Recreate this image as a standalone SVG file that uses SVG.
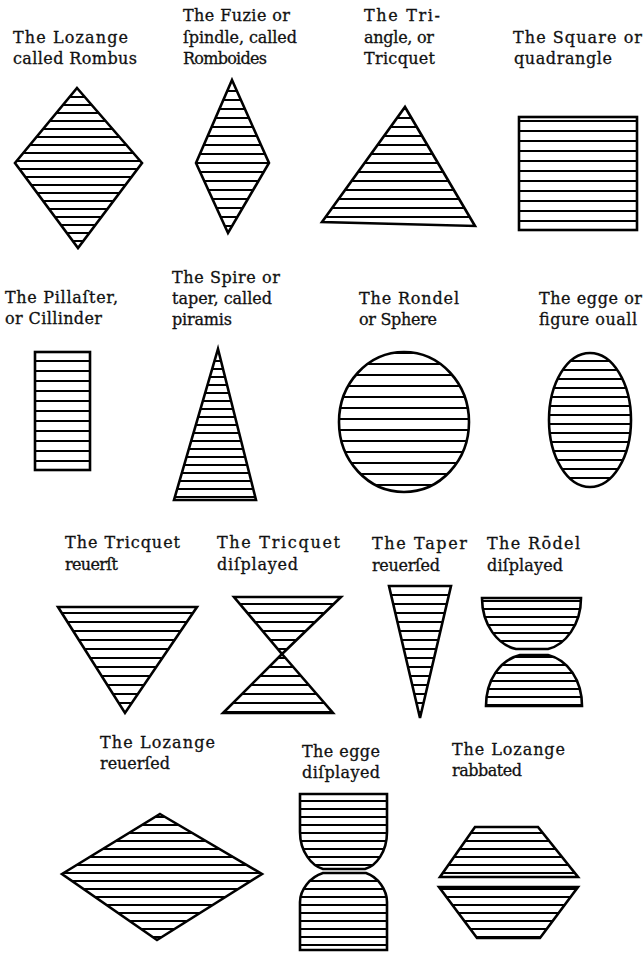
<svg xmlns="http://www.w3.org/2000/svg" width="644" height="956" viewBox="0 0 644 956">
<style>
.s{stroke:#000;stroke-width:2.6;stroke-linejoin:miter}
.t{font-family:"DejaVu Serif","Liberation Serif",serif;font-size:16px;fill:#111;stroke:#111;stroke-width:0.3}
</style>
<defs>
<pattern id="p8" width="10" height="8" patternUnits="userSpaceOnUse"><rect width="10" height="2" fill="#000"/></pattern>
<pattern id="p9" width="10" height="9" patternUnits="userSpaceOnUse"><rect width="10" height="2" fill="#000"/></pattern>
<pattern id="p10" width="10" height="10" patternUnits="userSpaceOnUse"><rect width="10" height="2" fill="#000"/></pattern>
<pattern id="p11" width="10" height="11" patternUnits="userSpaceOnUse"><rect width="10" height="2" fill="#000"/></pattern>
</defs>
<rect width="644" height="956" fill="#fff"/>

<g id="lozange">
<text class="t" x="13" y="43" textLength="115" lengthAdjust="spacing">The Lozange</text>
<text class="t" x="13" y="64" textLength="124" lengthAdjust="spacing">called Rombus</text>
<polygon class="s" fill="url(#p8)" points="77,88 142,163 78,248 15,163"/>
</g>

<g id="fuzie">
<text class="t" x="183" y="21" textLength="107" lengthAdjust="spacing">The Fuzie or</text>
<text class="t" x="183" y="43" textLength="114" lengthAdjust="spacing">ſpindle, called</text>
<text class="t" x="183" y="64" textLength="84" lengthAdjust="spacing">Romboides</text>
<polygon class="s" fill="url(#p9)" points="232,80 269,163 228,233 196,163"/>
</g>

<g id="triangle">
<text class="t" x="364" y="21" textLength="76" lengthAdjust="spacing">The Tri-</text>
<text class="t" x="364" y="43" textLength="70" lengthAdjust="spacing">angle, or</text>
<text class="t" x="364" y="64" textLength="71" lengthAdjust="spacing">Tricquet</text>
<polygon class="s" fill="url(#p9)" points="405,107 475,226 322,222"/>
</g>

<g id="square">
<text class="t" x="513" y="43" textLength="129" lengthAdjust="spacing">The Square or</text>
<text class="t" x="514" y="64" textLength="98" lengthAdjust="spacing">quadrangle</text>
<rect class="s" fill="url(#p10)" x="519" y="117" width="118" height="113"/>
</g>

<g id="pillaster">
<text class="t" x="5" y="303" textLength="113" lengthAdjust="spacing">The Pillaſter,</text>
<text class="t" x="5" y="324" textLength="97" lengthAdjust="spacing">or Cillinder</text>
<rect class="s" fill="url(#p10)" x="35" y="352" width="55" height="118"/>
</g>

<g id="spire">
<text class="t" x="172" y="283" textLength="108" lengthAdjust="spacing">The Spire or</text>
<text class="t" x="172" y="304" textLength="100" lengthAdjust="spacing">taper, called</text>
<text class="t" x="172" y="325" textLength="60" lengthAdjust="spacing">piramis</text>
<polygon class="s" fill="url(#p8)" points="218,349 256,500 174,500"/>
</g>

<g id="rondel">
<text class="t" x="359" y="304" textLength="100" lengthAdjust="spacing">The Rondel</text>
<text class="t" x="359" y="325" textLength="78" lengthAdjust="spacing">or Sphere</text>
<ellipse class="s" fill="url(#p11)" cx="404" cy="422" rx="65" ry="70"/>
</g>

<g id="egge">
<text class="t" x="539" y="304" textLength="103" lengthAdjust="spacing">The egge or</text>
<text class="t" x="539" y="325" textLength="98" lengthAdjust="spacing">figure ouall</text>
<ellipse class="s" fill="url(#p9)" cx="590" cy="420" rx="41" ry="67"/>
</g>

<g id="tricquet-reuerst">
<text class="t" x="65" y="548" textLength="115" lengthAdjust="spacing">The Tricquet</text>
<text class="t" x="65" y="570" textLength="53" lengthAdjust="spacing">reuerſt</text>
<polygon class="s" fill="url(#p9)" points="58,607 197,607 125,713"/>
</g>

<g id="tricquet-displayed">
<text class="t" x="217" y="548" textLength="123" lengthAdjust="spacing">The Tricquet</text>
<text class="t" x="217" y="570" textLength="81" lengthAdjust="spacing">diſplayed</text>
<polygon class="s" fill="url(#p9)" points="234,597 341,597 282,654"/>
<polygon class="s" fill="url(#p9)" points="282,654 333,713 223,713"/>
</g>

<g id="taper-reuersed">
<text class="t" x="372" y="549" textLength="95" lengthAdjust="spacing">The Taper</text>
<text class="t" x="372" y="571" textLength="68" lengthAdjust="spacing">reuerſed</text>
<polygon class="s" fill="url(#p9)" points="389,586 451,586 420,718"/>
</g>

<g id="rondel-displayed">
<text class="t" x="487" y="549" textLength="93" lengthAdjust="spacing">The Rōdel</text>
<text class="t" x="487" y="571" textLength="76" lengthAdjust="spacing">diſplayed</text>
<path class="s" fill="url(#p8)" d="M482,598 H581 C581,625 565,645 548,649 H516 C498,645 482,625 482,598 Z"/>
<path class="s" fill="url(#p8)" d="M520,655 H548 C568,660 582,680 582,706 H486 C486,680 500,660 520,655 Z"/>
</g>

<g id="lozange-reuersed">
<text class="t" x="100" y="748" textLength="115" lengthAdjust="spacing">The Lozange</text>
<text class="t" x="100" y="769" textLength="70" lengthAdjust="spacing">reuerſed</text>
<polygon class="s" fill="url(#p8)" points="160,814 262,874 157,940 62,874"/>
</g>

<g id="egge-displayed">
<text class="t" x="302" y="757" textLength="78" lengthAdjust="spacing">The egge</text>
<text class="t" x="302" y="778" textLength="78" lengthAdjust="spacing">diſplayed</text>
<path class="s" fill="url(#p8)" d="M300,794 H387 V832 C387,852 376,866 365,869 H323 C312,866 300,852 300,832 Z"/>
<path class="s" fill="url(#p8)" d="M323,873 H366 C378,877 387,890 387,902 V950 H300 V902 C300,890 310,877 323,873 Z"/>
</g>

<g id="lozange-rabbated">
<text class="t" x="452" y="755" textLength="113" lengthAdjust="spacing">The Lozange</text>
<text class="t" x="452" y="776" textLength="70" lengthAdjust="spacing">rabbated</text>
<polygon class="s" fill="url(#p8)" points="475,827 538,827 578,877 440,877"/>
<polygon class="s" fill="url(#p8)" points="439,887 578,887 540,938 477,938"/>
</g>
</svg>
